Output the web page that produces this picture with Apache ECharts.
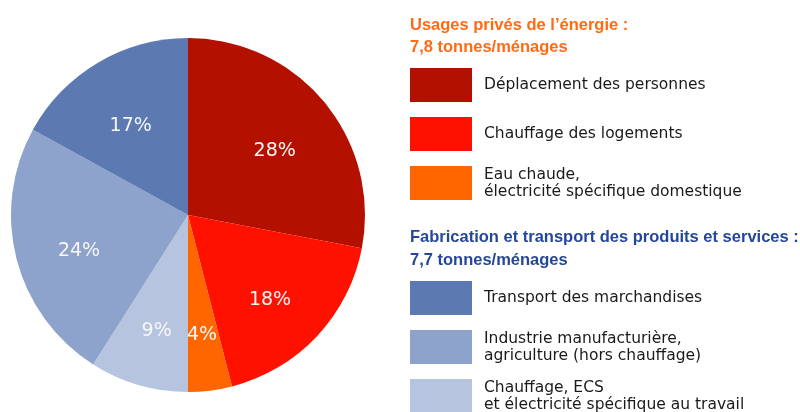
<!DOCTYPE html>
<html>
<head>
<meta charset="utf-8">
<script src="https://cdn.jsdelivr.net/npm/echarts@6/dist/echarts.min.js"></script>
<style>
  html, body { margin: 0; padding: 0; background: #fff; }
  #chart { width: 800px; height: 412px; }
</style>
</head>
<body>
<div id="chart"></div>
<script>
// parts, clockwise from 12 o'clock
const privateNames = [
  'Déplacement des personnes',
  'Chauffage des logements',
  'Eau chaude,\nélectricité spécifique domestique'
]
const productNames = [
  'Transport des marchandises',
  'Industrie manufacturière,\nagriculture (hors chauffage)',
  'Chauffage, ECS\net électricité spécifique au travail'
]
// pie order: private uses, then product group going back round (light -> dark)
const sliceNames = [privateNames[0], privateNames[1], privateNames[2], productNames[2], productNames[1], productNames[0]]
const sliceValues = [28, 18, 4, 9, 24, 17]
const sliceColors = ['#b31000', '#ff1100', '#ff6600', '#b6c4df', '#8ea3cb', '#5c79b1']

const privateTitle = 'Usages privés de l\u2019énergie :\n7,8 tonnes/ménages'
const productTitle = 'Fabrication et transport des produits et services :\n7,7 tonnes/ménages'

const chart = echarts.init(document.getElementById('chart'), null, { renderer: 'canvas' })

const pieData = sliceNames.map((n, i) => ({
  name: n,
  value: sliceValues[i],
  itemStyle: { color: sliceColors[i] }
}))

const legendBase = {
  orient: 'vertical',
  left: 410,
  height: 200,
  padding: 0,
  icon: 'rect',
  itemWidth: 62,
  itemHeight: 34,
  itemGap: 15,
  selectedMode: false,
  textStyle: {
    fontFamily: 'DejaVu Sans',
    fontSize: 15.5,
    lineHeight: 17,
    color: '#1a1a1a',
    padding: [0, 0, 0, 7]
  }
}

const titleBase = {
  left: 410,
  padding: 0,
  textStyle: {
    fontFamily: 'Liberation Sans',
    fontWeight: 'bold',
    fontSize: 16.5
  }
}

chart.setOption({
  animation: false,
  backgroundColor: '#fff',
  title: [
    Object.assign({}, titleBase, {
      text: privateTitle, top: 14,
      textStyle: Object.assign({}, titleBase.textStyle, { color: '#ff6a13', lineHeight: 22 })
    }),
    Object.assign({}, titleBase, {
      text: productTitle, top: 226,
      textStyle: Object.assign({}, titleBase.textStyle, { color: '#25479a', lineHeight: 23 })
    })
  ],
  legend: [
    Object.assign({}, legendBase, { top: 68, data: privateNames }),
    Object.assign({}, legendBase, { top: 281, data: productNames })
  ],
  series: [
    {
      type: 'pie',
      center: [188, 215],
      radius: [0, 177],
      startAngle: 90,
      clockwise: true,
      silent: true,
      label: { show: false },
      labelLine: { show: false },
      itemStyle: { borderWidth: 0 },
      data: pieData
    },
    {
      // transparent ring only used to place the percentage labels
      // (the labels in the original sit a little below the true centre)
      type: 'pie',
      center: [188, 223],
      radius: [42, 177],
      startAngle: 90,
      clockwise: true,
      silent: true,
      itemStyle: { color: 'rgba(0,0,0,0)', borderWidth: 0 },
      label: {
        show: true,
        position: 'inside',
        formatter: '{c}%',
        color: '#f6f6f6',
        fontFamily: 'DejaVu Sans',
        fontSize: 19
      },
      labelLine: { show: false },
      data: sliceNames.map((n, i) => ({ name: n, value: sliceValues[i] }))
    }
  ]
})
</script>
</body>
</html>
